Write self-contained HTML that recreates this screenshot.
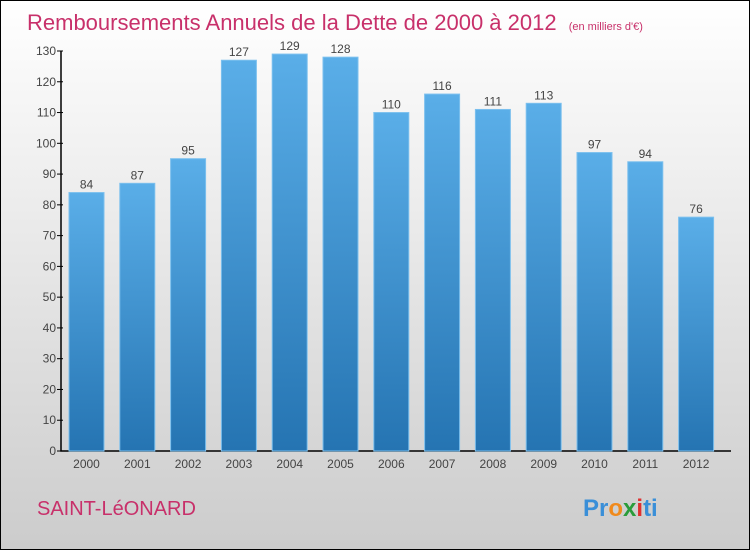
<!DOCTYPE html>
<html><head><meta charset="utf-8"><style>
body{margin:0}
#c{width:750px;height:550px;position:relative;box-sizing:border-box;border:1px solid #000;background:linear-gradient(#ffffff,#cccccc);font-family:"Liberation Sans",sans-serif;overflow:hidden}
</style></head><body>
<div id="c">
<svg id="s" width="750" height="550" style="position:absolute;left:0;top:0">
<defs><linearGradient id="g" x1="0" y1="0" x2="0" y2="1"><stop offset="0" stop-color="#5aaee8"/><stop offset="1" stop-color="#2574b2"/></linearGradient></defs>
<text x="26" y="29" font-size="22" fill="#c8306a">Remboursements Annuels de la Dette de 2000 à 2012 <tspan font-size="11" dx="6">(en milliers d'€)</tspan></text>
<text x="36" y="514" font-size="20" fill="#c8306a">SAINT-LéONARD</text>
<text x="582" y="515" font-size="24" font-weight="bold"><tspan fill="#3a8fd8">Pr</tspan><tspan fill="#f08a1c">o</tspan><tspan fill="#2a9c3a">x</tspan><tspan fill="#e03030">i</tspan><tspan fill="#3a8fd8">ti</tspan></text>
</svg>
</div>
<script>
const categories=["2000","2001","2002","2003","2004","2005","2006","2007","2008","2009","2010","2011","2012"];
const values=[84,87,95,127,129,128,110,116,111,113,97,94,76];
const ticks=[0,10,20,30,40,50,60,70,80,90,100,110,120,130];
const s=document.getElementById('s');const NS="http://www.w3.org/2000/svg";
const y=v=>450-v*400/130, x=i=>85.5+i*50.8;
function el(t,a,txt){const e=document.createElementNS(NS,t);for(const k in a)e.setAttribute(k,a[k]);if(txt!=null)e.textContent=txt;s.appendChild(e);return e;}
const ax=el('path',{d:"M60,50V450H730",stroke:"#000",fill:"none","stroke-width":1.5});


ticks.forEach(t=>{
 const l=el('line',{x1:56,x2:62,y1:y(t),y2:y(t),stroke:"#000"});
 
 
 const tx=el('text',{x:55,y:y(t)+4,"text-anchor":"end","font-size":12,fill:"#444"},t);
 
 
});
values.forEach((v,i)=>{
 const r=el('rect',{x:x(i)-17.5,y:y(v),width:35,height:450-y(v),fill:"url(#g)",stroke:"#7cc0ee","stroke-width":1});
 
 
 const vl=el('text',{x:x(i),y:y(v)-4,"text-anchor":"middle","font-size":12,fill:"#444"},v);
 
 
 const cl=el('text',{x:x(i),y:467,"text-anchor":"middle","font-size":12,fill:"#444"},categories[i]);
 
 
});
</script>
</body></html>
